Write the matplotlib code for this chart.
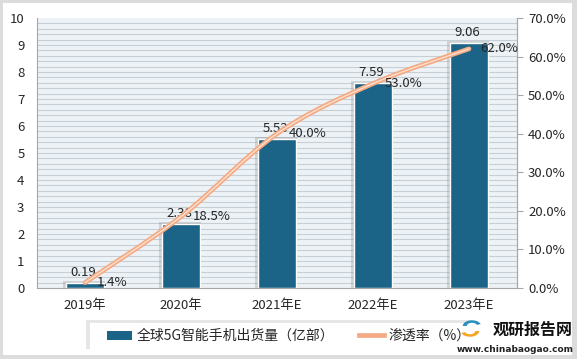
import numpy as np
import matplotlib
matplotlib.use('Agg')
import matplotlib.pyplot as plt
from matplotlib.path import Path
from matplotlib.patches import PathPatch, Rectangle, Wedge
from matplotlib.lines import Line2D

plt.rcParams['font.family'] = ['Noto Sans CJK SC', 'DejaVu Sans']

years = ['2019年', '2020年', '2021年E', '2022年E', '2023年E']
shipments = [0.19, 2.38, 5.53, 7.59, 9.06]
penetration = [1.4, 18.5, 40.0, 53.0, 62.0]
bar_name = '全球5G智能手机出货量（亿部）'
line_name = '渗透率（%）'

bar_color = '#1b6387'
line_color = '#f4ab84'
text_color = '#262626'
fs = 9.5

fig = plt.figure(figsize=(5.77, 3.59), dpi=100, facecolor='#dcdcdc')
fig.patches.append(Rectangle((3 / 577, 4 / 359), 569 / 577, 352 / 359, transform=fig.transFigure,
                             facecolor='white', edgecolor='none', zorder=-5))

ax = fig.add_axes([37 / 577, 71 / 359, 480 / 577, 270 / 359])
ax.set_facecolor('#edf2f6')
for yv in np.arange(0.2, 10, 0.2):
  ax.axhline(yv, color='#c6ced6', lw=0.8, zorder=0)

x = np.arange(len(years))
# soft shadow behind bars
ax.bar(x - 0.01, np.array(shipments) + 0.08, width=0.44, color='#8c8c8c', alpha=0.3, zorder=1)
ax.bar(x, shipments, width=0.4, color=bar_color, edgecolor='white', linewidth=1.0, zorder=2)
for xi, v in zip(x, shipments):
  ax.text(xi - 0.02, v + 0.15, f'{v:.2f}', ha='center', va='bottom', fontsize=fs, color=text_color, zorder=5)

ax.set_xlim(-0.5, len(years) - 0.5)
ax.set_ylim(0, 10)
ax.set_yticks(range(0, 11))
ax.set_xticks(x)
ax.set_xticklabels(years)
ax.tick_params(axis='both', length=0, labelsize=fs, colors=text_color)
ax.tick_params(axis='x', pad=8)
ax.tick_params(axis='y', pad=9)
ax.spines['top'].set_visible(False)
for s in ['left', 'bottom', 'right']:
  ax.spines[s].set_color('#a6a6a6')

ax2 = ax.twinx()
ax2.set_ylim(0, 70)
ax2.set_yticks(range(0, 71, 10))
ax2.set_yticklabels([f'{v:.1f}%' for v in range(0, 71, 10)])
ax2.tick_params(axis='y', length=4, color='#a6a6a6', labelsize=fs, labelcolor=text_color, pad=4)
for s in ['top', 'left', 'bottom']:
  ax2.spines[s].set_visible(False)
ax2.spines['right'].set_color('#a6a6a6')

# smooth line (Catmull-Rom -> Bezier)
pts = np.column_stack([x, penetration]).astype(float)
ext = np.vstack([pts[0], pts, pts[-1]])
verts = [tuple(pts[0])]
codes = [Path.MOVETO]
for i in range(1, len(ext) - 2):
  p0, p1, p2, p3 = ext[i - 1], ext[i], ext[i + 1], ext[i + 2]
  c1 = p1 + (p2 - p0) / 6
  c2 = p2 - (p3 - p1) / 6
  verts += [tuple(c1), tuple(c2), tuple(p2)]
  codes += [Path.CURVE4] * 3
path = Path(verts, codes)
ax2.add_patch(PathPatch(path, facecolor='none', edgecolor=line_color, lw=3.4, capstyle='round', zorder=3))
ax2.add_patch(PathPatch(path, facecolor='none', edgecolor='#fde3d4', lw=0.9, capstyle='round', zorder=4))
for xi, v in zip(x, penetration):
  ax2.text(xi + 0.12, v, f'{v:.1f}%', ha='left', va='center', fontsize=fs, color=text_color, zorder=5)

# legend box with shadow
fig.patches.append(Rectangle((86 / 577, 10 / 359), 384 / 577, 29 / 359, transform=fig.transFigure,
                             facecolor='#e6e6e6', edgecolor='none', zorder=1))
fig.patches.append(Rectangle((90 / 577, 9 / 359), 380 / 577, 27 / 359, transform=fig.transFigure,
                             facecolor='white', edgecolor='none', zorder=2))
handles = [Rectangle((0, 0), 1, 1, facecolor=bar_color),
           Line2D([], [], color=line_color, lw=3.4)]
leg = fig.legend(handles, [bar_name, line_name], loc='center', bbox_to_anchor=(289 / 577, 23 / 359),
                 ncol=2, frameon=False, fontsize=10, handlelength=1.8, handleheight=0.6,
                 handletextpad=0.3, columnspacing=1.8, borderpad=0.3)
leg.set_zorder(3)
for t in leg.get_texts():
  t.set_color(text_color)

# watermark logo
fig.patches.append(Wedge((470 / 577, 28 / 359), 0.016, 200, 360, width=0.007, transform=fig.transFigure,
                         facecolor='#f5a623', edgecolor='none', zorder=6))
fig.patches.append(Wedge((472 / 577, 33 / 359), 0.016, 20, 180, width=0.007, transform=fig.transFigure,
                         facecolor='#2a8fbf', edgecolor='none', zorder=6))
fig.text(533 / 577, 29 / 359, '观研报告网', fontsize=11.5, fontweight='bold', color='#111111',
         ha='center', va='center', zorder=7)
fig.text(515 / 577, 10 / 359, 'www.chinabaogao.com', fontsize=6.5, fontweight='bold', color='#222222',
         ha='center', va='center', family='DejaVu Sans', zorder=7)

fig.savefig('out.png', dpi=100, facecolor=fig.get_facecolor())
